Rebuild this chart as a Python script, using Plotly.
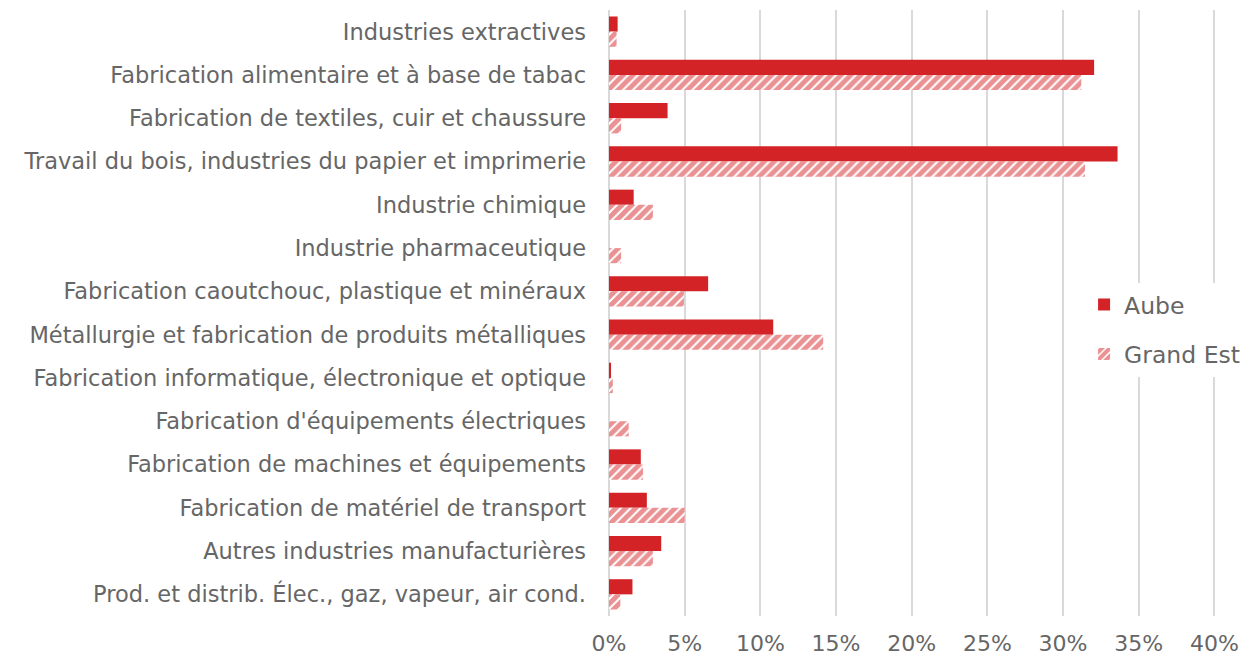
import plotly.graph_objects as go

categories = [
    "Industries extractives",
    "Fabrication alimentaire et à base de tabac",
    "Fabrication de textiles, cuir et chaussure",
    "Travail du bois, industries du papier et imprimerie",
    "Industrie chimique",
    "Industrie pharmaceutique",
    "Fabrication caoutchouc, plastique et minéraux",
    "Métallurgie et fabrication de produits métalliques",
    "Fabrication informatique, électronique et optique",
    "Fabrication d'équipements électriques",
    "Fabrication de machines et équipements",
    "Fabrication de matériel de transport",
    "Autres industries manufacturières",
    "Prod. et distrib. Élec., gaz, vapeur, air cond.",
]
aube = [0.0057, 0.3205, 0.0387, 0.336, 0.0163, 0.0, 0.0655, 0.1085, 0.001, 0.0, 0.021, 0.025, 0.0345, 0.0155]
grand_est = [0.0050, 0.312, 0.008, 0.3145, 0.029, 0.008, 0.0495, 0.1415, 0.0025, 0.013, 0.0225, 0.050, 0.029, 0.0075]
x_ticks = [0, 0.05, 0.10, 0.15, 0.20, 0.25, 0.30, 0.35, 0.40]

RED = "#D42327"
FONT = "DejaVu Sans"
TXT = "#666666"

fig = go.Figure()
fig.add_trace(go.Bar(
    y=categories, x=aube, orientation="h", name="Aube",
    marker=dict(color=RED, line=dict(width=0)), legendgroup="a",
))
fig.add_trace(go.Bar(
    y=categories, x=grand_est, orientation="h", name="Grand Est",
    marker=dict(color="white", line=dict(width=0),
                pattern=dict(shape="/", fgcolor=RED, bgcolor="white", size=7, solidity=0.72, fillmode="overlay")),
    legendgroup="b",
))

fig.update_layout(
    width=1240, height=651,
    margin=dict(l=601, r=26, t=2, b=43, autoexpand=False),
    paper_bgcolor="white", plot_bgcolor="white",
    barmode="group", bargap=0.3, bargroupgap=0,
    font=dict(family=FONT, color=TXT, size=22),
    legend=dict(x=0.775, y=0.55, xanchor="left", yanchor="top",
                font=dict(size=23.5, color=TXT, family=FONT),
                bgcolor="white", tracegroupgap=16, itemwidth=30),
    showlegend=True,
)
fig.update_xaxes(
    range=[0, 0.405], tickvals=x_ticks, tickformat=".0%",
    showgrid=True, gridcolor="#D9D9D9", gridwidth=2,
    zeroline=True, zerolinecolor="#D9D9D9", zerolinewidth=2,
    showline=False, ticks="", ticklabelstandoff=12,
    tickfont=dict(size=22, color=TXT, family=FONT),
)
fig.update_yaxes(
    autorange="reversed", showgrid=False, showline=False, ticks="",
    ticklabelstandoff=22,
    tickfont=dict(size=22.5, color=TXT, family=FONT),
)

fig.write_html("out.html")
